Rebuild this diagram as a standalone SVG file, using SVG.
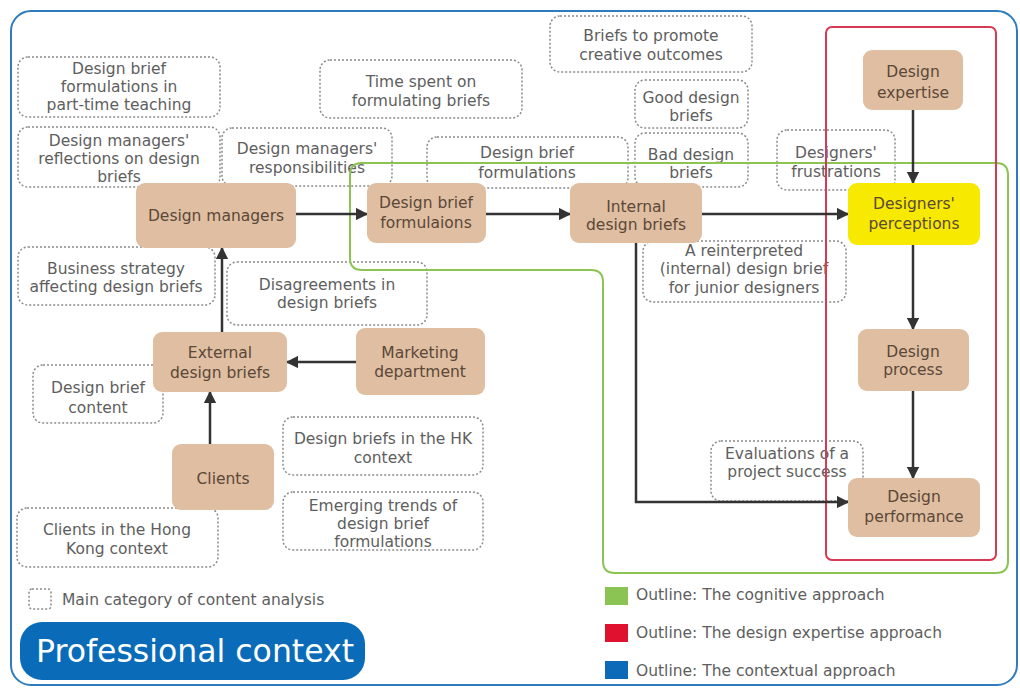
<svg xmlns="http://www.w3.org/2000/svg" width="1020" height="688" viewBox="0 0 1020 688">
  <defs>
    <marker id="arrow" viewBox="0 0 10 10" refX="9" refY="5" markerWidth="5" markerHeight="5" orient="auto" markerUnits="strokeWidth">
      <path d="M0,0 L10,5 L0,10 z" fill="#333"/>
    </marker>
    <style>
      text { font-family: "DejaVu Sans", Verdana, sans-serif; font-size: 15.5px; text-anchor: middle; }
      .cat rect { fill: none; stroke: #8a8a8a; stroke-width: 1.5; stroke-dasharray: 2 2; }
      .cat text { fill: #5e5e5e; }
      .node rect { fill: #e0bea2; }
      .node text { fill: #5a4838; }
      .conn { stroke: #333; stroke-width: 2.5; fill: none; marker-end: url(#arrow); }
      .legend { text-anchor: start; fill: #5e5e5e; font-size: 15.5px; }
    </style>
  </defs>

  <rect x="0" y="0" width="1020" height="688" fill="#fff"/>
  <!-- outer frame -->
  <rect x="11" y="11" width="1006" height="674" rx="20" fill="#fff" stroke="#2f7bbd" stroke-width="2"/>

  <!-- content analysis categories -->
  <g id="cat-parttime" class="cat"><rect x="18" y="57" width="202" height="60" rx="10"/>
    <text x="119" y="74">Design brief</text><text x="119" y="92">formulations in</text><text x="119" y="110">part-time teaching</text></g>
  <g id="cat-reflections" class="cat"><rect x="18" y="127" width="202" height="60" rx="10"/>
    <text x="119" y="146">Design managers'</text><text x="119" y="164">reflections on design</text><text x="119" y="182">briefs</text></g>
  <g id="cat-responsibilities" class="cat"><rect x="222" y="128" width="170" height="58" rx="10"/>
    <text x="307" y="154">Design managers'</text><text x="307" y="173">responsibilities</text></g>
  <g id="cat-time" class="cat"><rect x="320" y="60" width="202" height="58" rx="10"/>
    <text x="421" y="87">Time spent on</text><text x="421" y="106">formulating briefs</text></g>
  <g id="cat-creative" class="cat"><rect x="550" y="16" width="202" height="56" rx="10"/>
    <text x="651" y="41">Briefs to promote</text><text x="651" y="60">creative outcomes</text></g>
  <g id="cat-good" class="cat"><rect x="635" y="80" width="113" height="48" rx="10"/>
    <text x="691" y="103">Good design</text><text x="691" y="121">briefs</text></g>
  <g id="cat-bad" class="cat"><rect x="635" y="133" width="113" height="54" rx="10"/>
    <text x="691" y="160">Bad design</text><text x="691" y="178">briefs</text></g>
  <g id="cat-formulations" class="cat"><rect x="427" y="137" width="201" height="51" rx="10"/>
    <text x="527" y="158">Design brief</text><text x="527" y="178">formulations</text></g>
  <g id="cat-frustrations" class="cat"><rect x="777" y="130" width="118" height="60" rx="10"/>
    <text x="836" y="158">Designers'</text><text x="836" y="177">frustrations</text></g>
  <g id="cat-reinterpreted" class="cat"><rect x="643" y="241" width="203" height="61" rx="10"/>
    <text x="744" y="256">A reinterpreted</text><text x="744" y="274">(internal) design brief</text><text x="744" y="293">for junior designers</text></g>
  <g id="cat-evaluations" class="cat"><rect x="711" y="441" width="152" height="60" rx="10"/>
    <text x="787" y="459">Evaluations of a</text><text x="787" y="477">project success</text></g>
  <g id="cat-strategy" class="cat"><rect x="18" y="247" width="197" height="58" rx="10"/>
    <text x="116" y="274">Business strategy</text><text x="116" y="292">affecting design briefs</text></g>
  <g id="cat-disagreements" class="cat"><rect x="227" y="262" width="200" height="63" rx="10"/>
    <text x="327" y="290">Disagreements in</text><text x="327" y="308">design briefs</text></g>
  <g id="cat-content" class="cat"><rect x="33" y="365" width="130" height="58" rx="10"/>
    <text x="98" y="393">Design brief</text><text x="98" y="413">content</text></g>
  <g id="cat-hk" class="cat"><rect x="283" y="417" width="200" height="58" rx="10"/>
    <text x="383" y="444">Design briefs in the HK</text><text x="383" y="463">context</text></g>
  <g id="cat-trends" class="cat"><rect x="283" y="492" width="200" height="58" rx="10"/>
    <text x="383" y="511">Emerging trends of</text><text x="383" y="529">design brief</text><text x="383" y="547">formulations</text></g>
  <g id="cat-clients-hk" class="cat"><rect x="17" y="508" width="201" height="59" rx="10"/>
    <text x="117" y="535">Clients in the Hong</text><text x="117" y="554">Kong context</text></g>

  <!-- approach outlines -->
  <path d="M362,163 H996 Q1008,163 1008,175 V561 Q1008,573 996,573 H615 Q603,573 603,561 V282 Q603,270 591,270 H362 Q350,270 350,258 V175 Q350,163 362,163 Z" fill="none" stroke="#8cc453" stroke-width="2"/>
  <rect x="826" y="27" width="170" height="533" rx="6" fill="none" stroke="#d63a55" stroke-width="2"/>

  <!-- connectors -->
  <g id="connectors">
    <line class="conn" x1="296" y1="214" x2="367" y2="214"/>
    <line class="conn" x1="486" y1="214" x2="570" y2="214"/>
    <line class="conn" x1="702" y1="214" x2="848" y2="214"/>
    <line class="conn" x1="913" y1="110" x2="913" y2="183"/>
    <line class="conn" x1="913" y1="245" x2="913" y2="329"/>
    <line class="conn" x1="913" y1="391" x2="913" y2="478"/>
    <polyline class="conn" points="636,243 636,502 848,502"/>
    <line class="conn" x1="222" y1="332" x2="222" y2="248"/>
    <line class="conn" x1="356" y1="362" x2="287" y2="362"/>
    <line class="conn" x1="210" y1="444" x2="210" y2="392"/>
  </g>

  <!-- nodes -->
  <g id="design-managers" class="node"><rect x="136" y="183" width="160" height="65" rx="9"/>
    <text x="216" y="221">Design managers</text></g>
  <g id="brief-formulaions" class="node"><rect x="367" y="183" width="119" height="60" rx="9"/>
    <text x="426" y="208">Design brief</text><text x="426" y="228">formulaions</text></g>
  <g id="internal-briefs" class="node"><rect x="570" y="183" width="132" height="60" rx="9"/>
    <text x="636" y="212">Internal</text><text x="636" y="230">design briefs</text></g>
  <g id="designers-perceptions" class="node"><rect x="848" y="183" width="132" height="62" rx="9" style="fill:#f7ea00"/>
    <text x="914" y="209">Designers'</text><text x="914" y="229">perceptions</text></g>
  <g id="design-expertise" class="node"><rect x="863" y="50" width="100" height="60" rx="9"/>
    <text x="913" y="77">Design</text><text x="913" y="98">expertise</text></g>
  <g id="design-process" class="node"><rect x="858" y="329" width="111" height="62" rx="9"/>
    <text x="913" y="357">Design</text><text x="913" y="375">process</text></g>
  <g id="design-performance" class="node"><rect x="848" y="478" width="132" height="59" rx="9"/>
    <text x="914" y="502">Design</text><text x="914" y="522">performance</text></g>
  <g id="external-briefs" class="node"><rect x="153" y="332" width="134" height="60" rx="9"/>
    <text x="220" y="358">External</text><text x="220" y="378">design briefs</text></g>
  <g id="marketing" class="node"><rect x="356" y="328" width="129" height="67" rx="9"/>
    <text x="420" y="358">Marketing</text><text x="420" y="377">department</text></g>
  <g id="clients" class="node"><rect x="172" y="444" width="102" height="66" rx="9"/>
    <text x="223" y="484">Clients</text></g>

  <!-- legend -->
  <g id="legend">
    <rect x="29" y="589" width="22" height="20" rx="3" fill="none" stroke="#8a8a8a" stroke-width="1.5" stroke-dasharray="2 2"/>
    <text class="legend" x="62" y="605">Main category of content analysis</text>
    <rect x="605" y="587" width="23" height="18" fill="#8cc453"/>
    <text class="legend" x="636" y="600">Outline: The cognitive approach</text>
    <rect x="605" y="624" width="23" height="18" fill="#e0102f"/>
    <text class="legend" x="636" y="638">Outline: The design expertise approach</text>
    <rect x="605" y="661" width="23" height="18" fill="#0d6ab8"/>
    <text class="legend" x="636" y="676">Outline: The contextual approach</text>
  </g>

  <!-- context label -->
  <g id="professional-context">
    <rect x="20" y="622" width="345" height="58" rx="22" fill="#0a6cb8"/>
    <text x="195" y="662" style="font-size:31.5px; fill:#fff;">Professional context</text>
  </g>
</svg>
